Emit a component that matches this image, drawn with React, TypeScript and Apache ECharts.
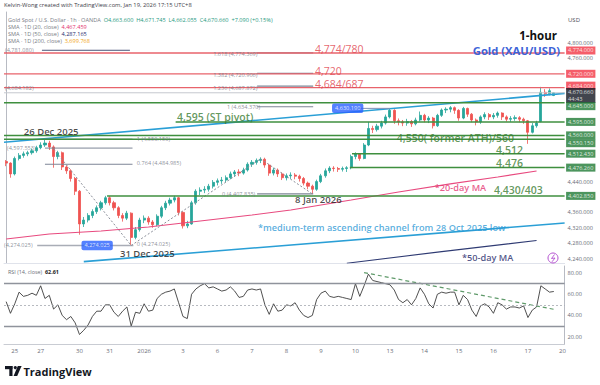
import React, { useEffect, useRef } from 'react';
import * as echarts from 'echarts';

// ---- DATA ----
// one candle per ~3h slot: [open, close, low, high]
const candles: number[][] = [
  [4492,4488,4480,4496],[4488,4460,4450,4490],[4460,4500,4456,4505],[4500,4508,4495,4514],[4508,4512,4502,4518],
  [4512,4515,4506,4520],[4515,4520,4510,4526],[4520,4528,4515,4533],[4528,4535,4524,4542],[4535,4540,4530,4550],
  [4540,4530,4522,4546],[4530,4505,4476,4534],[4505,4515,4498,4520],[4515,4478,4470,4518],[4478,4468,4460,4482],
  [4468,4448,4440,4472],[4448,4415,4405,4452],[4415,4330,4302,4418],[4330,4340,4322,4348],[4340,4352,4334,4358],
  [4352,4362,4345,4368],[4362,4372,4356,4378],[4372,4385,4365,4390],[4385,4398,4380,4403],[4398,4385,4378,4402],
  [4385,4372,4365,4390],[4372,4352,4345,4376],[4352,4345,4336,4358],[4345,4358,4340,4364],[4358,4295,4274,4360],
  [4295,4315,4290,4322],[4315,4340,4310,4346],[4340,4345,4332,4352],[4345,4335,4328,4350],[4335,4328,4320,4340],
  [4328,4350,4324,4355],[4350,4372,4345,4377],[4372,4384,4366,4390],[4384,4392,4378,4398],[4392,4398,4386,4403],
  [4398,4360,4352,4400],[4360,4325,4318,4363],[4325,4330,4319,4338],[4330,4385,4328,4390],[4385,4415,4380,4420],
  [4415,4418,4405,4425],[4418,4420,4410,4428],[4420,4428,4414,4434],[4428,4438,4422,4444],[4438,4442,4430,4448],
  [4442,4444,4434,4452],[4444,4450,4438,4456],[4450,4460,4446,4466],[4460,4465,4452,4470],[4465,4462,4454,4472],
  [4462,4470,4458,4476],[4470,4485,4466,4490],[4485,4490,4478,4496],[4490,4495,4484,4500],[4495,4498,4488,4503],
  [4498,4483,4476,4502],[4483,4462,4455,4486],[4462,4470,4456,4476],[4470,4460,4452,4474],[4460,4450,4444,4464],
  [4450,4455,4443,4461],[4455,4457,4447,4464],[4457,4454,4446,4462],[4454,4448,4440,4458],[4448,4436,4430,4452],
  [4436,4428,4420,4440],[4428,4420,4408,4432],[4420,4440,4416,4445],[4440,4455,4436,4460],[4455,4468,4450,4474],
  [4468,4475,4462,4480],[4475,4474,4466,4480],[4474,4472,4465,4478],[4472,4474,4466,4479],[4474,4476,4465,4480],
  [4476,4505,4472,4510],[4505,4512,4498,4516],[4512,4500,4494,4514],[4500,4535,4498,4540],[4535,4578,4532,4595],
  [4578,4575,4566,4585],[4575,4584,4570,4590],[4584,4592,4578,4598],[4592,4608,4588,4614],[4608,4625,4604,4630],
  [4625,4598,4590,4628],[4598,4595,4586,4604],[4595,4592,4584,4600],[4592,4596,4585,4603],[4596,4590,4582,4600],
  [4590,4600,4586,4606],[4600,4612,4596,4622],[4612,4600,4594,4616],[4600,4605,4592,4610],[4605,4585,4578,4608],
  [4585,4612,4582,4616],[4612,4626,4608,4630],[4626,4628,4618,4633],[4628,4632,4620,4636],[4632,4625,4616,4635],
  [4625,4605,4598,4628],[4605,4630,4602,4634],[4630,4615,4608,4632],[4615,4600,4594,4618],[4600,4595,4586,4604],
  [4595,4608,4590,4612],[4608,4614,4602,4620],[4614,4608,4600,4618],[4608,4612,4602,4618],[4612,4618,4606,4622],
  [4618,4608,4600,4620],[4608,4602,4596,4612],[4602,4604,4595,4610],[4604,4606,4598,4612],[4606,4602,4594,4610],
  [4602,4598,4590,4606],[4598,4568,4538,4600],[4568,4585,4565,4592],[4585,4592,4580,4598],[4596,4672,4594,4686],
  [4672,4668,4660,4680],[4668,4676,4664,4682],[4663.6,4670.66,4662.055,4671.745],
];

const rsiValues: number[] = [
  53,42,51,62,58,59,61,59,68,56,
  59,46,50,40,36,39,33,22,26,31,
  39,44,44,50,50,43,39,44,48,30,
  43,42,51,44,45,56,60,62,63,65,
  52,39,37,60,65,68,70,66,67,65,
  63,64,67,63,57,58,64,65,64,65,
  50,41,51,44,45,50,49,52,45,40,
  38,40,55,61,63,58,57,58,57,56,
  55,70,58,68,79,73,72,71,70,69,
  64,55,52,55,50,56,66,60,51,47,
  60,62,61,62,62,50,59,55,45,39,
  49,51,48,42,52,50,46,48,48,47,
  49,38,45,48,68,65,62,62.61,
];

const slotCount = 130;
const dayTickSlots = [2, 8, 17, 24, 32, 41, 49, 57, 65, 73, 81, 89, 97, 105, 113, 121, 129];
const dayTickLabels = ['25', '27', '30', '31', '2026', '3', '6', '7', '8', '9', '10', '13', '14', '15', '16', '17', '20'];
const priceTicks = [4240, 4280, 4320, 4360, 4440, 4760, 4800];
const rsiTicks = [20, 40, 60, 80];

const ma20Slots = [0, 10, 22, 33, 45, 57, 66, 80, 91, 103, 114, 123];
const ma20Values = [4290.9, 4303.9, 4311.7, 4322, 4337.6, 4353, 4366, 4392, 4413, 4434, 4452, 4467.5];
const ma50Slots = [79, 101, 123];
const ma50Values = [4228, 4258, 4287];

const channelUpperSlots = [-0.5, 129.5];
const channelUpperValues = [4542, 4669];
const channelLowerSlots = [18, 129.5];
const channelLowerValues = [4232, 4332.5];

const resistanceLevels = [4774, 4720, 4684];
const supportLevels = [4645, 4595, 4560, 4550.15, 4512.43, 4476.26, 4402.85];
const lastPrice = 4670.66;
const lastCountdown = '44:43';

const fibRetraceLevels = [4550.15, 4527, 4484.985];
const fibLowLevel = 4274.025;
const fibExtLevels = [4774.369, 4720.906, 4687.872, 4634.37, 4407.835];
const oldHighLevel = 4781.08;
const pivotHigh = 4630.19;

const rsiTrendSlots = [83, 127];
const rsiTrendValues = [80.5, 45.8];

// ---- helpers / styles ----
const FONT = 'Open Sans, Noto Sans, sans-serif';
const RED = '#e8636b';
const RED_TXT = '#e0404a';
const GREEN = '#3f8f3f';
const GREEN_TXT = '#3b7d33';
const GRAY = '#70747f';
const fmt3 = (v: number) => v.toLocaleString('en-US', { minimumFractionDigits: 3, maximumFractionDigits: 3 });

const seg = (xs: number[], ys: number[], color: string, width: number, type: any = 'solid') => ({
  type: 'line', xAxisIndex: 1, yAxisIndex: 0, symbol: 'none', silent: true,
  data: xs.map((x, i) => [x, ys[i]]), lineStyle: { color, width, type }, z: 3,
});

export default function App() {
  const ref = useRef<HTMLDivElement>(null);
  useEffect(() => {
    if (!ref.current) return;
    const chart = echarts.init(ref.current, undefined, { renderer: 'svg' });
    const categories = Array.from({ length: slotCount }, (_, i) => 's' + i);
    const tickSet = new Map(dayTickSlots.map((s, i) => [s, dayTickLabels[i]]));

    const supportStart: Record<string, number> = {
      '4645': -0.5, '4595': 39.3, '4560': -0.5, '4550.15': -0.5, '4512.43': 80.2, '4476.26': 79.7, '4402.85': 23.4,
    };
    const tagDy: Record<string, number> = { '4774': -2.5, '4684': -2, '4645': 3.5, '4550.15': 4 };

    const series: any[] = [];
    series.push({
      type: 'candlestick', xAxisIndex: 0, yAxisIndex: 0, data: candles, barWidth: '60%', z: 2,
      itemStyle: { color: '#26a69a', color0: '#ef5350', borderColor: '#26a69a', borderColor0: '#ef5350', borderWidth: 0.8 },
    });
    series.push(seg(ma20Slots, ma20Values, '#e84a7f', 1.1));
    series.push(seg(ma50Slots, ma50Values, '#2f3b73', 1.1));
    series.push(seg(channelUpperSlots, channelUpperValues, '#2a9fd6', 1.6));
    series.push(seg(channelLowerSlots, channelLowerValues, '#2a9fd6', 1.6));
    series.push(seg([-0.5, 129.5], [lastPrice, lastPrice], '#c5c8ce', 1));
    fibRetraceLevels.forEach((p) => series.push(seg([9, 29.3], [p, p], '#7d8596', 1)));
    series.push(seg([7.2, 29.5], [fibLowLevel, fibLowLevel], '#a9adb6', 1.5));
    series.push(seg([8.3, 28.7], [oldHighLevel, oldHighLevel], '#4b5578', 1));
    fibExtLevels.forEach((p) => series.push(seg([58.2, 71.2], [p, p], '#7d8596', 1.2)));
    series.push(seg([80.9, 89], [pivotHigh, pivotHigh], '#7f8fb5', 1));
    series.push(seg([11, 29], [4525, 4274], '#8a8e99', 1, [2, 2]));
    series.push(seg([29, 59], [4274, 4499], '#8a8e99', 1, [2, 2]));
    series.push(seg([59, 71], [4499, 4408], '#8a8e99', 1, [2, 2]));
    resistanceLevels.forEach((p) => series.push(seg([-0.5, 129.5], [p, p], RED, 1.3)));
    supportLevels.forEach((p) => series.push(seg([supportStart[String(p)], 129.5], [p, p], GREEN, 1.5)));

    const tags: any[] = [];
    resistanceLevels.forEach((p) => tags.push({ value: [129.5, p], label: { backgroundColor: '#f23645', formatter: fmt3(p), offset: [0, tagDy[String(p)] || 0] } }));
    tags.push({ value: [129.5, lastPrice], label: { backgroundColor: '#131722', formatter: fmt3(lastPrice) + '\n' + lastCountdown, offset: [0, 2.7], lineHeight: 6.5 } });
    supportLevels.forEach((p) => tags.push({ value: [129.5, p], label: { backgroundColor: '#1f7a35', formatter: fmt3(p), offset: [0, tagDy[String(p)] || 0] } }));
    series.push({
      type: 'scatter', xAxisIndex: 1, yAxisIndex: 0, symbolSize: 0, clip: false, silent: true, z: 10, data: tags,
      label: { show: true, position: 'right', distance: 1.5, color: '#fff', fontSize: 5.6, fontFamily: FONT, padding: [1.2, 2, 0.8, 2], lineHeight: 6 },
    });

    const styles: Record<string, any> = {
      red: { color: RED_TXT, fontSize: 10.5, fontWeight: 400 },
      green: { color: GREEN_TXT, fontSize: 10.5, fontWeight: 600 },
      black: { color: '#1a1a1a', fontSize: 9.5, fontWeight: 600, lineHeight: 10.5 },
      pink: { color: '#e3346f', fontSize: 9.2, fontWeight: 600 },
      blue: { color: '#2f9ad6', fontSize: 9.2, fontWeight: 600 },
      navy: { color: '#1f2a6b', fontSize: 9.2, fontWeight: 600 },
      gray: { color: GRAY, fontSize: 5.6, fontWeight: 400, lineHeight: 6 },
    };
    const notes: [string, number, number, string][] = [
      ['4,774/780', 71.6, 4784.4, 'red'],
      ['4,720', 71.6, 4727.2, 'red'],
      ['4,684/687', 71.6, 4692.2, 'red'],
      ['4,595 (ST pivot)', 39.6, 4607.8, 'green'],
      ['4,550( former ATH)/560', 90.6, 4553.2, 'green'],
      ['4,512', 113.6, 4522.1, 'green'],
      ['4,476', 113.6, 4487, 'green'],
      ['4,430/403', 113.1, 4418.2, 'green'],
      ['*20-day MA', 99.4, 4423.4, 'pink'],
      ['*medium-term ascending channel from 28 Oct 2025 low', 58.4, 4322, 'blue'],
      ['*50-day MA', 105.7, 4242.8, 'navy'],
      ['26 Dec 2025', 4.1, 4570.1, 'black'],
      ['31 Dec 2025', 26.4, 4253.5, 'black'],
      ['8 Jan 2026', 67, 4392.2, 'black'],
      ['1 (4,550.150)', 30.3, 4550.6, 'gray'],
      ['0.764 (4,484.985)', 30.3, 4488.3, 'gray'],
      ['(4,597.553)', 0.2, 4528.5, 'gray'],
      ['(4,274.025)', -0.5, 4275.3, 'gray'],
      ['0 (4,274.025)', 30.3, 4278.5, 'gray'],
      ['0 (4,407.835)', 50.05, 4406.5, 'gray'],
      ['1 (4,634.370)', 51.2, 4633.7, 'gray'],
      ['1.236 (4,687.872)', 48, 4684, 'gray'],
      ['1.382 (4,720.906)', 48, 4717.6, 'gray'],
      ['1.618 (4,774.369)', 48, 4771.4, 'gray'],
      ['(4,684.182)', -0.27, 4683.1, 'gray'],
      ['(4,781.080)', -0.27, 4781.8, 'gray'],
    ];
    series.push({
      type: 'scatter', xAxisIndex: 1, yAxisIndex: 0, symbolSize: 0, clip: false, silent: true, z: 8,
      data: notes.map(([t, x, y, s]) => ({ value: [x, y], label: { formatter: t, ...styles[s] } })),
      label: { show: true, position: 'right', distance: 0, fontFamily: FONT },
    });
    series.push({
      type: 'scatter', xAxisIndex: 1, yAxisIndex: 0, symbolSize: 0, clip: false, silent: true, z: 9,
      data: [[21.1, fibLowLevel], [79.2, pivotHigh]].map((v) => ({ value: v, label: { formatter: fmt3(v[1]) } })),
      label: { show: true, position: 'inside', color: '#fff', backgroundColor: '#2962ff', borderRadius: 2, padding: [2, 3, 1.5, 3], fontSize: 5.6, fontFamily: FONT },
    });

    series.push({
      type: 'line', xAxisIndex: 2, yAxisIndex: 1, data: rsiValues, symbol: 'none', silent: true,
      lineStyle: { color: '#3c3c3c', width: 0.9 }, z: 3,
      markLine: {
        silent: true, symbol: 'none', label: { show: false },
        data: [
          { yAxis: 70, lineStyle: { color: '#8f939c', width: 1.3, type: 'solid' } },
          { yAxis: 50, lineStyle: { color: '#a5a8b0', width: 0.8, type: [2, 2] } },
          { yAxis: 30, lineStyle: { color: '#8f939c', width: 1.3, type: 'solid' } },
        ],
      },
    });
    series.push({
      type: 'line', xAxisIndex: 2, yAxisIndex: 1, symbol: 'none', silent: true, z: 4,
      data: rsiTrendSlots.map((x, i) => [x, rsiTrendValues[i]]),
      lineStyle: { color: '#5f9a6a', width: 1.2, type: [4, 3] },
    });

    const gText = (x: number, y: number, text: string, o: any = {}) => ({
      type: 'text', x, y, silent: true, z: 20,
      style: { text, fill: '#4a4d57', fontSize: 5.6, fontFamily: FONT, align: 'left', verticalAlign: 'middle', ...o },
    });
    const legRich = {
      a: { fill: '#7a7d86', fontSize: 5.6, fontFamily: FONT },
      g: { fill: '#1f9a80', fontSize: 5.6, fontFamily: FONT },
      p: { fill: '#e3346f', fontSize: 5.6, fontFamily: FONT },
      n: { fill: '#1f2a6b', fontSize: 5.6, fontFamily: FONT },
      y: { fill: '#f2a516', fontSize: 5.6, fontFamily: FONT },
    };

    const option: any = {
      animation: false,
      backgroundColor: '#ffffff',
      textStyle: { fontFamily: FONT },
      grid: [
        { left: 4, right: 35.4, top: 12, height: 251, outerBoundsMode: 'none' },
        { left: 4, right: 35.4, top: 266, height: 78, outerBoundsMode: 'none' },
      ],
      xAxis: [
        { type: 'category', gridIndex: 0, data: categories, boundaryGap: true, axisLabel: { show: false }, axisTick: { show: false }, axisLine: { show: true, lineStyle: { color: '#e0e3eb' } }, splitLine: { show: false } },
        { type: 'value', gridIndex: 0, min: -0.5, max: slotCount - 0.5, show: false },
        {
          type: 'category', gridIndex: 1, data: categories, boundaryGap: true, axisTick: { show: false },
          axisLine: { show: true, lineStyle: { color: '#c9ccd3' } }, splitLine: { show: false },
          axisLabel: { show: true, interval: (i: number) => tickSet.has(i), formatter: (_v: string, i: number) => tickSet.get(i) || '', fontSize: 6, color: '#6a6d78', margin: 4, hideOverlap: false },
        },
      ],
      yAxis: [
        {
          type: 'value', gridIndex: 0, position: 'right', min: 4228.5, max: 4880.5, splitLine: { show: false },
          axisLine: { show: true, lineStyle: { color: '#b8bbc3' } }, axisTick: { show: false },
          axisLabel: { customValues: priceTicks, formatter: (v: number) => fmt3(v), fontSize: 5.6, color: '#6a6d78', margin: 3, lineHeight: 5 },
        },
        {
          type: 'value', gridIndex: 1, position: 'right', min: 13, max: 86.7, splitLine: { show: false },
          axisLine: { show: true, lineStyle: { color: '#b8bbc3' } }, axisTick: { show: false },
          axisLabel: { customValues: rsiTicks, formatter: (v: number) => v.toFixed(2), fontSize: 5.6, color: '#6a6d78', margin: 3 },
        },
      ],
      series,
      graphic: [
        gText(4, 5, 'Kelvin-Wong created with TradingView.com, Jan 19, 2026 17:15 UTC+8', { fill: '#3d4049', fontSize: 5.8 }),
        gText(8, 19.5, '{a|Gold Spot / U.S. Dollar · 1h · OANDA}  {g|O4,663.600  H4,671.745  L4,662.055  C4,670.660  +7.090 (+0.15%)}', { rich: legRich }),
        gText(8, 26.8, '{a|SMA · 1D (20, close)}  {p|4,467.459}', { rich: legRich }),
        gText(8, 33.8, '{a|SMA · 1D (50, close)}  {n|4,287.165}', { rich: legRich }),
        gText(8, 40.8, '{a|SMA · 1D (200, close)}  {y|3,699.768}', { rich: legRich }),
        gText(557, 35, '1-hour', { fill: '#111', fontSize: 11.5, fontWeight: 700, align: 'right', lineHeight: 11 }),
        gText(560, 50.5, 'Gold (XAU/USD)', { fill: '#3d63d8', fontSize: 11.2, fontWeight: 700, align: 'right', lineHeight: 11 }),
        gText(568, 20, 'USD', { fill: '#4a4d57', fontSize: 6 }),
        gText(8, 272, '{a|RSI (14, close)}  {b|62.61}', { rich: { a: { fill: '#6a6d78', fontSize: 5.4, fontFamily: FONT }, b: { fill: '#222', fontSize: 5.4, fontWeight: 700, fontFamily: FONT } } }),
        { type: 'circle', silent: true, z: 20, shape: { cx: 553, cy: 258, r: 5 }, style: { fill: '#fff', stroke: '#b34fd0', lineWidth: 1 } },
        { type: 'polyline', silent: true, z: 21, shape: { points: [[554.5, 254.5], [551.5, 258.5], [555, 258], [552, 261.8]] }, style: { fill: 'none', stroke: '#b34fd0', lineWidth: 0.9 } },
        { type: 'rect', silent: true, z: 20, shape: { x: 5, y: 366, width: 7.5, height: 3.2 }, style: { fill: '#131722' } },
        { type: 'rect', silent: true, z: 20, shape: { x: 9.3, y: 366, width: 3.2, height: 10 }, style: { fill: '#131722' } },
        { type: 'circle', silent: true, z: 20, shape: { cx: 15.3, cy: 367.6, r: 1.6 }, style: { fill: '#131722' } },
        { type: 'polygon', silent: true, z: 20, shape: { points: [[17.8, 366], [21.6, 366], [17.2, 376], [13.6, 376]] }, style: { fill: '#131722' } },
        gText(23.5, 371.5, 'TradingView', { fill: '#131722', fontSize: 11, fontWeight: 700 }),
      ],
    };
    chart.setOption(option);
    return () => chart.dispose();
  }, []);
  return <div ref={ref} style={{ position: 'fixed', left: 0, top: 0, width: 600, height: 385, background: '#fff' }} />;
}
